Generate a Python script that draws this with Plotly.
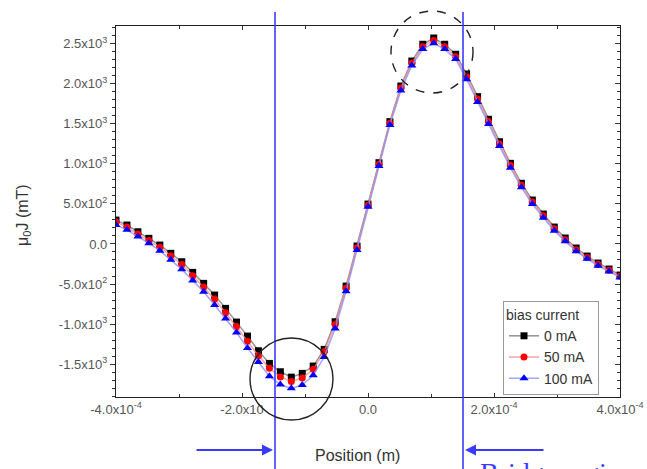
import numpy as np
import plotly.graph_objects as go

# ---- data ----
positions = np.linspace(-4e-4, 4e-4, 47)
j_0mA = [298, 236, 152, 70, -14, -117, -222, -355, -492, -638, -804, -975, -1150, -1333,
         -1491, -1595, -1662, -1615, -1524, -1316, -971, -526, -26, 498, 1014, 1526, 1971,
         2283, 2492, 2570, 2492, 2367, 2121, 1838, 1556, 1276, 1006, 757, 548, 373, 211, 74,
         -51, -151, -238, -313, -388]
j_50mA = [273, 211, 124, 42, -42, -147, -257, -397, -537, -688, -859, -1030, -1215, -1395,
          -1551, -1660, -1717, -1673, -1564, -1346, -1006, -554, -46, 483, 994, 1506, 1946,
          2258, 2462, 2540, 2462, 2337, 2091, 1808, 1528, 1248, 981, 732, 523, 351, 189, 54,
          -71, -169, -256, -328, -403]
j_100mA = [238, 176, 92, 10, -84, -197, -317, -455, -597, -763, -929, -1105, -1300, -1473,
           -1651, -1755, -1802, -1760, -1639, -1411, -1056, -591, -76, 463, 974, 1486, 1916,
           2228, 2432, 2505, 2432, 2307, 2056, 1773, 1496, 1221, 951, 707, 498, 328, 166, 34,
           -91, -186, -273, -343, -418]
series_names = ["0 mA", "50 mA", "100 mA"]

x_tickvals = [-4e-4, -2e-4, 0, 2e-4, 4e-4]
x_ticktext = ["-4.0x10<sup>-4</sup>", "-2.0x10", "0.0", "2.0x10<sup>-4</sup>", "4.0x10<sup>-4</sup>"]
y_tickvals = [-1500, -1000, -500, 0, 500, 1000, 1500, 2000, 2500]
y_ticktext = ["-1.5x10<sup>3</sup>", "-1.0x10<sup>3</sup>", "-5.0x10<sup>2</sup>", "0.0",
              "5.0x10<sup>2</sup>", "1.0x10<sup>3</sup>", "1.5x10<sup>3</sup>",
              "2.0x10<sup>3</sup>", "2.5x10<sup>3</sup>"]

# ---- layout geometry (pixels) ----
W, H = 647, 469
L, R, T, B = 116, 27, 26, 72
PW, PH = W - L - R, H - T - B

def px(xp):
    return (xp - L) / PW

def py(yp):
    return (H - B - yp) / PH

FONT = "Arial, Liberation Sans, sans-serif"
BLUE = "#3b3bff"

fig = go.Figure()
styles = [
    dict(color="black", symbol="square", size=7, line="rgba(120,120,120,0.8)"),
    dict(color="red", symbol="circle", size=7, line="rgba(255,140,140,0.8)"),
    dict(color="blue", symbol="triangle-up", size=8, line="rgba(140,140,255,0.8)"),
]
for name, ys, st in zip(series_names, [j_0mA, j_50mA, j_100mA], styles):
    fig.add_trace(go.Scatter(
        x=positions, y=ys, mode="lines+markers", name=name,
        line=dict(color=st["line"], width=1.5),
        marker=dict(color=st["color"], symbol=st["symbol"], size=st["size"]),
        cliponaxis=True,
    ))

# invisible trace to carry the right-hand mirrored axis
fig.add_trace(go.Scatter(x=[positions[0]], y=[j_0mA[0]], yaxis="y2", showlegend=False,
                         mode="markers", marker=dict(opacity=0), hoverinfo="skip"))

fig.update_layout(
    width=W, height=H,
    margin=dict(l=L, r=R, t=T, b=B, autoexpand=False),
    paper_bgcolor="white", plot_bgcolor="white",
    font=dict(family=FONT, size=12, color="#444"),
    xaxis=dict(range=[-4e-4, 4e-4], tickvals=x_tickvals, ticktext=x_ticktext,
               ticks="inside", ticklen=4, tickcolor="#333", showline=True, linecolor="#222",
               linewidth=1.2, mirror="ticks", showgrid=False, zeroline=False,
               tickfont=dict(size=13, color="#555"),
               minor=dict(dtick=1e-4, tick0=0, ticks="inside", ticklen=3, tickcolor="#333")),
    yaxis=dict(range=[-1910, 2720], tickvals=y_tickvals, ticktext=y_ticktext,
               ticks="outside", ticklen=5, tickcolor="#333", showline=True, linecolor="#222",
               linewidth=1.2, showgrid=False, zeroline=False,
               tickfont=dict(size=13, color="#555"),
               minor=dict(dtick=100, tick0=0, ticks="outside", ticklen=3, tickcolor="#333")),
    yaxis2=dict(range=[-1910, 2720], overlaying="y", side="right", showticklabels=False,
                tickvals=y_tickvals, ticks="inside", ticklen=5, tickcolor="#333",
                showline=True, linecolor="#222", linewidth=1.2, showgrid=False, zeroline=False,
                minor=dict(dtick=100, tick0=0, ticks="inside", ticklen=3, tickcolor="#333")),
    legend=dict(x=px(503), y=py(301), xanchor="left", yanchor="top",
                bordercolor="#999", borderwidth=1, bgcolor="white",
                font=dict(size=14, color="#333"),
                title=dict(text="bias current", font=dict(size=14, color="#333")),
                tracegroupgap=0, itemwidth=30),
    showlegend=True,
)

# vertical blue boundary lines
for xl in [275, 463]:
    fig.add_shape(type="line", xref="paper", yref="paper",
                  x0=px(xl), x1=px(xl), y0=py(H + 5), y1=py(12),
                  line=dict(color=BLUE, width=1.6))

# circles
fig.add_shape(type="circle", xref="paper", yref="paper",
              x0=px(391), x1=px(473), y0=py(93), y1=py(11),
              line=dict(color="#222", width=1.4, dash="dash"))
fig.add_shape(type="circle", xref="paper", yref="paper",
              x0=px(250), x1=px(333), y0=py(420), y1=py(338),
              line=dict(color="#222", width=1.4))

# arrows
fig.add_annotation(xref="paper", yref="paper", x=px(273), y=py(450), ax=-78, ay=0,
                   showarrow=True, arrowhead=2, arrowsize=1.1, arrowwidth=2,
                   arrowcolor=BLUE, text="")
fig.add_annotation(xref="paper", yref="paper", x=px(465), y=py(450), ax=80, ay=0,
                   showarrow=True, arrowhead=2, arrowsize=1.1, arrowwidth=2,
                   arrowcolor=BLUE, text="")

# axis titles
fig.add_annotation(xref="paper", yref="paper", x=px(357), y=py(455), text="Position (m)",
                   showarrow=False, font=dict(size=16, color="#333"),
                   xanchor="center", yanchor="middle")
fig.add_annotation(xref="paper", yref="paper", x=px(23), y=py(215),
                   text="μ<sub>0</sub>J (mT)", textangle=-90, showarrow=False,
                   font=dict(size=16, color="#333"), xanchor="center", yanchor="middle")

# partially visible label
fig.add_annotation(xref="paper", yref="paper", x=px(478), y=py(455), text="Bridge region",
                   showarrow=False, xanchor="left", yanchor="top",
                   font=dict(size=28, color=BLUE, family="Liberation Serif, Times New Roman, serif"))

fig.write_html("out.html")
